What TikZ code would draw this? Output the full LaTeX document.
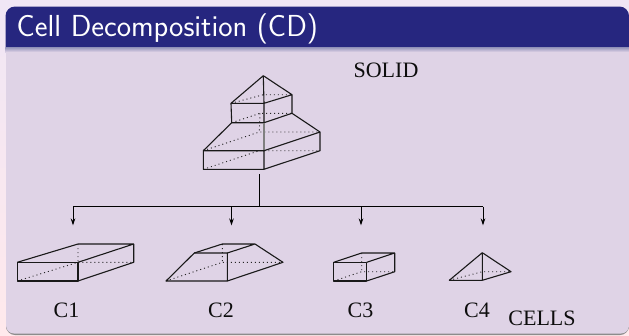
\documentclass[tikz,border=0pt]{standalone}
\usepackage{fontspec}
\setmainfont{Liberation Serif}
\usetikzlibrary{arrows.meta}
\definecolor{titlebg}{HTML}{26267F}
\definecolor{panelbg}{HTML}{DFD3E6}
\definecolor{pagetop}{HTML}{F0E6F5}
\definecolor{pagebot}{HTML}{FFE9EC}
\definecolor{shadowc}{HTML}{8F8FB8}
\tikzset{
  edge/.style={line width=1.1pt,line join=round,black!90},
  hid/.style={line width=0.9pt,dash pattern=on 1pt off 3pt,black!85},
  feed/.style={line width=1pt,black},
  feedarrow/.style={feed,-{Stealth[length=7pt,width=4.5pt]}},
  lab/.style={font=\fontsize{22}{26}\selectfont,inner sep=0pt,text=black!95},
}
\begin{document}
\begin{tikzpicture}[x=1pt,y=-1pt]
\useasboundingbox (0,0) rectangle (629,335);
\shade[top color=pagetop,bottom color=pagebot] (0,0) rectangle (629,335);
% panel
\fill[black!45,rounded corners=9pt] (6,320) -- (6,335) -- (629,335) -- (629,320) -- cycle;
\fill[pagebot] (0,330) rectangle (5.5,335);
\fill[panelbg,rounded corners=8pt] (6,30) -- (6,333.5) -- (629,333.5) -- (629,30) -- cycle;
% title
\fill[titlebg,rounded corners=9.5pt] (5.5,60) -- (5.5,6.5) -- (629,6.5) -- (629,60) -- cycle;
\shade[top color=shadowc,bottom color=panelbg] (5.5,47) rectangle (629,52);
\fill[panelbg] (5.5,52) rectangle (629,62);
\node[anchor=base west,inner sep=0pt,text=white,font=\sffamily\fontsize{30.4}{34}\selectfont] (title) at (16.5,36) {Cell Decomposition (CD)};
% SOLID
\coordinate (apex) at (263.3,75.7);
\coordinate (a1) at (231,103.3);
\coordinate (a2) at (264,103.3);
\coordinate (a3) at (292,94.7);
\coordinate (a4) at (263.3,94.7);
\coordinate (b1) at (231.7,122.7);
\coordinate (b2) at (264,122.7);
\coordinate (b3) at (292,113.3);
\coordinate (b4) at (260,113.3);
\coordinate (c1) at (203.3,150.7);
\coordinate (c2) at (264,150.7);
\coordinate (c3) at (320,132);
\coordinate (c4) at (259.3,132);
\coordinate (d1) at (203.3,169.3);
\coordinate (d2) at (264,169.3);
\coordinate (d3) at (320,150.7);
\coordinate (d4) at (259.3,150.7);
\draw[hid] (a1) -- (a4) -- (a3) (b1) -- (b4) -- (b3) (b4) -- (c4) (c1) -- (c4) -- (c3) (d1) -- (d4) -- (d3);
\draw[edge] (a1) -- (apex) -- (a3) (apex) -- (a2) (a1) -- (a2) -- (a3) -- (b3) -- (b2) -- (b1) -- cycle (a2) -- (b2);
\draw[edge] (b1) -- (c1) (b3) -- (c3);
\draw[edge,black!50] (b2) -- (c2);
\draw[edge] (c1) -- (c2) -- (c3) -- (d3) -- (d2) -- (d1) -- cycle (c2) -- (d2);
% feed lines
\coordinate (stem) at (259.3,174.3);
\coordinate (bus) at (259.3,206.5);
\coordinate (t1) at (73,225.5);
\coordinate (t2) at (231.5,225.5);
\coordinate (t3) at (361,225.5);
\coordinate (t4) at (483,225.5);
\draw[feed] (stem) -- (bus);
\draw[feed] (t1 |- bus) -- (t4 |- bus);
\foreach \t in {t1,t2,t3,t4} \draw[feedarrow] (\t |- bus) -- (\t);
% C1
\draw[hid] (78,244) -- (78,262.3) (17.3,281) -- (78,262.3) -- (133.7,262.3);
\draw[edge] (17.3,262.3) rectangle (78,281);
\draw[edge] (17.3,262.3) -- (78,244) -- (133.7,244) -- (78,262.3) (133.7,244) -- (133.7,262.3) -- (78,281);
% C2
\draw[hid] (222.3,244) -- (222.3,262.3) (166,281) -- (222.3,262.3) -- (283,262.3);
\draw[edge] (166,281) -- (194.3,253) -- (227.3,253) -- (227.3,281) -- cycle;
\draw[edge] (194.3,253) -- (222.3,244) -- (255,244) -- (227.3,253) (255,244) -- (283,262.3) -- (227.3,281);
% C3
\draw[hid] (361.7,253) -- (361.7,271.7) (333.7,281) -- (361.7,271.7) -- (394.7,271.7);
\draw[edge] (333.7,262.3) rectangle (366.7,281);
\draw[edge] (333.7,262.3) -- (361.7,253) -- (394.7,253) -- (366.7,262.3) (394.7,253) -- (394.7,271.7) -- (366.7,281);
% C4
\draw[hid] (449.3,280.3) -- (482.3,271.7) -- (511,271.7);
\draw[edge] (449.3,280.3) -- (482.3,252.7) -- (511,271.7) -- (482.3,280.3) -- cycle (482.3,252.7) -- (482.3,280.3);
% labels
\node[lab,anchor=base] (solid) at (386,77) {SOLID};
\node[lab,anchor=base] (l1) at (66.5,317.5) {C1};
\node[lab,anchor=base] (l2) at (221,317.5) {C2};
\node[lab,anchor=base] (l3) at (360.5,317.5) {C3};
\node[lab,anchor=base] (l4) at (477,317.5) {C4};
\node[lab,anchor=base] (cells) at (542,325) {CELLS};
\end{tikzpicture}
\end{document}
